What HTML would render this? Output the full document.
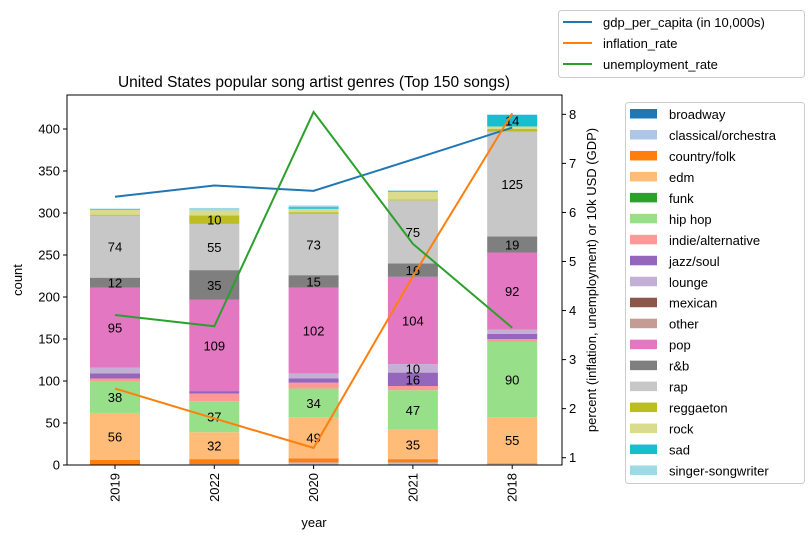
<!DOCTYPE html>
<html><head><meta charset="utf-8"><style>
body{margin:0;background:#fff;width:812px;height:539px;overflow:hidden}
svg text{font-family:"Liberation Sans","DejaVu Sans",sans-serif;font-size:13px;fill:#000}
</style></head><body>
<svg id="c" width="812" height="539"></svg>
<script>
const years=["2019","2022","2020","2021","2018"];
const genres=["broadway","classical/orchestra","country/folk","edm","funk","hip hop","indie/alternative","jazz/soul","lounge","mexican","other","pop","r&b","rap","reggaeton","rock","sad","singer-songwriter"];
const colors=["#1f77b4","#aec7e8","#ff7f0e","#ffbb78","#2ca02c","#98df8a","#ff9896","#9467bd","#c5b0d5","#8c564b","#c49c94","#e377c2","#7f7f7f","#c7c7c7","#bcbd22","#dbdb8d","#17becf","#9edae5"];
const v2019=[0,0,6,56,0,38,3,6,7,0,0,95,12,74,1,6,1,0];
const v2022=[0,1,6,32,0,37,9,3,0,0,0,109,35,55,10,6,0,3];
const v2020=[0,3,5,49,0,34,7,5,6,0,0,102,15,73,2,4,2,2];
const v2021=[0,3,4,35,0,47,5,16,10,0,0,104,16,75,1,9,1,1];
const v2018=[0,1,1,55,0,90,3,6,5,0,0,92,19,125,3,3,14,0];
const gdp=[6.32,6.55,6.44,7.08,7.73];
const inflation=[2.41,1.80,1.20,4.70,8.02];
const unemployment=[3.91,3.68,8.05,5.36,3.65];
const leftTicks=[0,50,100,150,200,250,300,350,400];
const rightTicks=[1,2,3,4,5,6,7,8];
const series=[v2019,v2022,v2020,v2021,v2018];
const NS="http://www.w3.org/2000/svg";
const svg=document.getElementById('c');
function el(t,a,p){const e=document.createElementNS(NS,t);for(const k in a)e.setAttribute(k,a[k]);(p||svg).appendChild(e);return e;}
const L=67,R=562,T=95,B=465;
const yL=v=>B-v*0.84;
const yR=v=>457.7-(v-1)*49.05;
const xC=i=>115+i*99.3;
const bw=50;
series.forEach((vals,i)=>{let cum=0;vals.forEach((v,g)=>{if(v<=0)return;
 const r=el('rect',{x:xC(i)-bw/2,y:yL(cum+v),width:bw,height:v*0.84,fill:colors[g]});
 
 
 if(v>=10){const t=el('text',{x:xC(i),y:yL(cum+v/2)+5,'text-anchor':'middle'});t.textContent=v;
 
 }
 cum+=v;});});
[[gdp,"#1f77b4","gdp-line"],[inflation,"#ff7f0e","inflation-line"],[unemployment,"#2ca02c","unemployment-line"]].forEach(([d,c,n])=>{
 const p=el('polyline',{points:d.map((v,i)=>xC(i)+','+yR(v)).join(' '),fill:'none',stroke:c,'stroke-width':2});
 
 });
const f=el('rect',{x:L,y:T,width:R-L,height:B-T,fill:'none',stroke:'#000','stroke-width':1});


leftTicks.forEach(v=>{el('line',{x1:L-4,x2:L,y1:yL(v),y2:yL(v),stroke:'#000'});
 const t=el('text',{x:L-7,y:yL(v)+4.5,'text-anchor':'end'});t.textContent=v;
 
 });
rightTicks.forEach(v=>{el('line',{x1:R,x2:R+4,y1:yR(v),y2:yR(v),stroke:'#000'});
 const t=el('text',{x:R+7,y:yR(v)+4.5});t.textContent=v;
 
 });
years.forEach((y,i)=>{el('line',{x1:xC(i),x2:xC(i),y1:B,y2:B+4,stroke:'#000'});
 const t=el('text',{x:0,y:0,transform:`translate(${xC(i)+4.5},${B+8}) rotate(-90)`,'text-anchor':'end'});t.textContent=y;
 
 });
</script>
<svg width="812" height="539" style="position:absolute;left:0;top:0">
<text x="314" y="87" text-anchor="middle" style="font-size:15.5px">United States popular song artist genres (Top 150 songs)</text>
<text x="314" y="527" text-anchor="middle">year</text>
<text transform="translate(22,280) rotate(-90)" text-anchor="middle">count</text>
<text transform="translate(596,280) rotate(-90)" text-anchor="middle">percent (inflation, unemployment) or 10k USD (GDP)</text>
<g>
<rect x="558.5" y="10.5" width="246" height="67" rx="3" fill="#fff" stroke="#ccc"/>
<line x1="563" x2="592" y1="22" y2="22" stroke="#1f77b4" stroke-width="2"/><text x="603" y="27">gdp_per_capita (in 10,000s)</text>
<line x1="563" x2="592" y1="43" y2="43" stroke="#ff7f0e" stroke-width="2"/><text x="603" y="48">inflation_rate</text>
<line x1="563" x2="592" y1="64" y2="64" stroke="#2ca02c" stroke-width="2"/><text x="603" y="69">unemployment_rate</text>
</g>
<g id="lg">
<rect x="625.5" y="102.5" width="179" height="381" rx="3" fill="#fff" stroke="#ccc"/>
</g>
</svg>
<script>
(function(){const g=document.getElementById('lg');
genres.forEach((n,i)=>{const y=114+i*20.97;
 const r=document.createElementNS(NS,'rect');r.setAttribute('x',630);r.setAttribute('y',y-5);r.setAttribute('width',27);r.setAttribute('height',9.5);r.setAttribute('fill',colors[i]);g.appendChild(r);
 
 
 const t=document.createElementNS(NS,'text');t.setAttribute('x',669);t.setAttribute('y',y+5);t.textContent=n;g.appendChild(t);
 
 });})();
</script>
</body></html>
